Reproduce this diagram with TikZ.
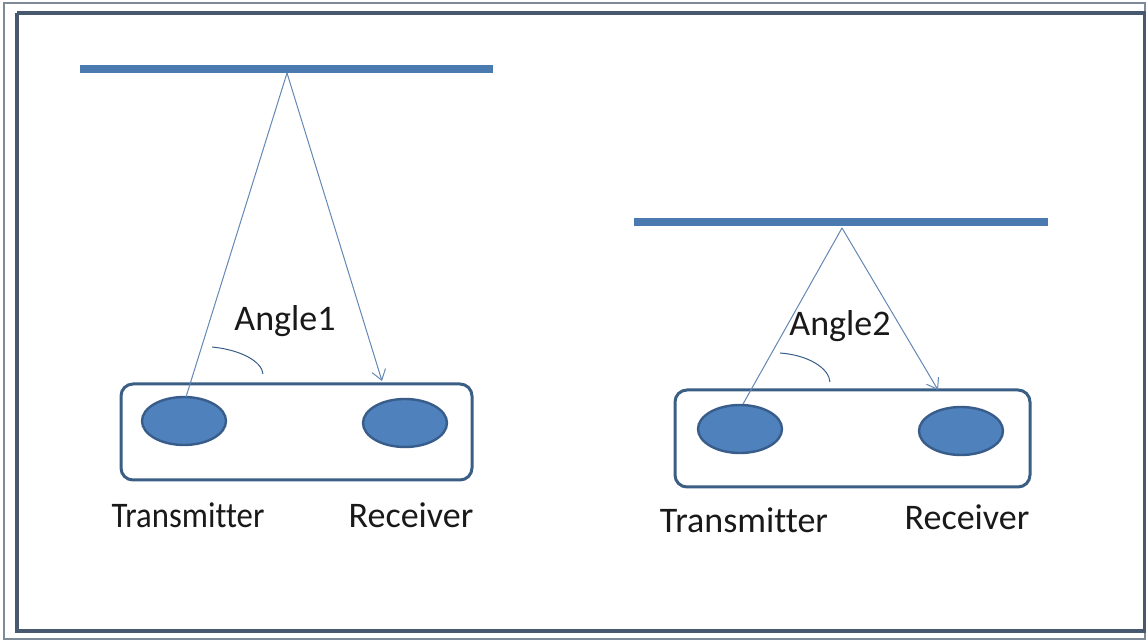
\documentclass[tikz,border=0pt]{standalone}
\usepackage{fontspec}
\setmainfont{Carlito}[Ligatures=NoCommon]
\usetikzlibrary{shapes.geometric,arrows.meta}
\definecolor{barblue}{RGB}{74,122,176}
\definecolor{ellfill}{RGB}{79,129,189}
\definecolor{ellline}{RGB}{56,93,138}
\definecolor{boxline}{RGB}{59,94,133}
\definecolor{rayline}{RGB}{100,135,180}
\definecolor{frameline}{RGB}{72,88,110}
\definecolor{txt}{RGB}{25,25,25}
\tikzset{
  bar/.style={line width=4pt, draw=barblue},
  unitbox/.style={draw=boxline, line width=1.5pt, rounded corners=6pt, fill=white},
  sensor/.style={ellipse, draw=ellline, line width=1.2pt, fill=ellfill, minimum width=42pt, minimum height=24pt, inner sep=0pt},
  ray/.style={draw=rayline, line width=0.5pt},
  rayarrow/.style={ray, -{Straight Barb[length=5pt,width=7pt]}},
  arcline/.style={draw=ellline, line width=0.5pt},
  lab/.style={font=\fontsize{18}{20}\selectfont, text=txt, inner sep=0pt},
}
\begin{document}
\begin{tikzpicture}[x=0.5pt,y=-0.5pt]
\useasboundingbox (0,0) rectangle (1146,640);
% frame
\draw[draw=frameline!70, line width=0.6pt] (4,3) rectangle (1145,639);
\draw[draw=frameline, line width=1.6pt] (17,13) -| (1145,631) -| (17,13);

% ---------- left unit ----------
\draw[bar] (80,69) -- (493,69);
\coordinate (apexA) at (287,73);
\node[unitbox, minimum width=175.5pt, minimum height=48pt] (boxA) at (296.5,432) {};
\node[sensor] (txA) at (184,421) {};
\node[sensor] (rxA) at (405,423) {};
\coordinate (txtopA) at (186,397);
\coordinate (rxendA) at (382,381);
\draw[ray] (apexA) -- (txtopA);
\draw[rayarrow] (apexA) -- (rxendA);
\draw[arcline] (212,347) .. controls (242,350) and (262,362) .. (263,374);
\node[lab] (angA) at (285,321) {Angle1};
\node[lab, xscale=0.91] (tlabA) at (188,515) {Transmitter};
\node[lab] (rlabA) at (411,515) {Receiver};

% ---------- right unit ----------
\draw[bar] (634,222) -- (1048,222);
\coordinate (apexB) at (842,228);
\node[unitbox, minimum width=177.5pt, minimum height=48.5pt] (boxB) at (852.5,438.5) {};
\node[sensor] (txB) at (740,429) {};
\node[sensor] (rxB) at (961,431) {};
\coordinate (txtopB) at (743,404);
\coordinate (rxendB) at (938,390);
\draw[ray] (apexB) -- (txtopB);
\draw[rayarrow] (apexB) -- (rxendB);
\draw[arcline] (780,353) .. controls (808,355) and (829,368) .. (830,382);
\node[lab] (angB) at (840,326) {Angle2};
\node[lab] (tlabB) at (744,520) {Transmitter};
\node[lab] (rlabB) at (967,517) {Receiver};
\end{tikzpicture}
\end{document}
